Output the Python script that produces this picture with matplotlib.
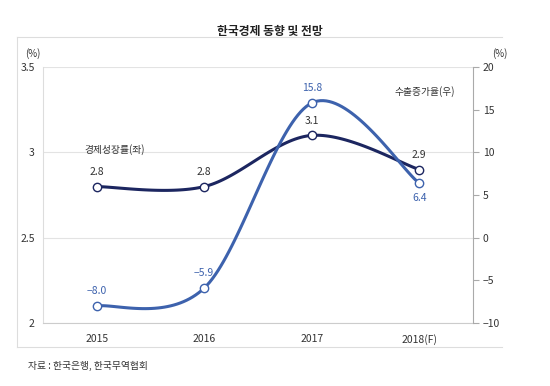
import numpy as np
import matplotlib.pyplot as plt
from matplotlib.lines import Line2D

plt.rcParams['font.family'] = ['Noto Sans CJK KR', 'DejaVu Sans']

# Data
years = ['2015', '2016', '2017', '2018(F)']
gdp_growth = [2.8, 2.8, 3.1, 2.9]          # left axis
export_growth = [-8.0, -5.9, 15.8, 6.4]    # right axis
gdp_labels = ['2.8', '2.8', '3.1', '2.9']
export_labels = ['\u22128.0', '\u22125.9', '15.8', '6.4']

gdp_color = '#1c2660'
exp_color = '#3d62ad'


def smooth(x, y, n=40):
    # Catmull-Rom style smoothing (like Excel's smoothed line)
    x = np.asarray(x, float)
    y = np.asarray(y, float)
    px = np.concatenate([[x[0]], x, [x[-1]]])
    py = np.concatenate([[y[0]], y, [y[-1]]])
    xs, ys = [], []
    t = np.linspace(0, 1, n)
    for i in range(1, len(px) - 2):
        p0 = np.array([px[i], py[i]])
        p3 = np.array([px[i + 1], py[i + 1]])
        c1 = p0 + (np.array([px[i + 1], py[i + 1]]) - np.array([px[i - 1], py[i - 1]])) / 6
        c2 = p3 - (np.array([px[i + 2], py[i + 2]]) - np.array([px[i], py[i]])) / 6
        b = ((1 - t) ** 3)[:, None] * p0 + (3 * (1 - t) ** 2 * t)[:, None] * c1 \
            + (3 * (1 - t) * t ** 2)[:, None] * c2 + (t ** 3)[:, None] * p3
        xs.extend(b[:, 0])
        ys.extend(b[:, 1])
    return np.array(xs), np.array(ys)


fig = plt.figure(figsize=(5.5, 3.86), dpi=100)
ax = fig.add_axes([0.078, 0.163, 0.782, 0.663])
ax2 = ax.twinx()

xpos = np.arange(len(years))

# left axis
ax.set_xlim(-0.5, 3.5)
ax.set_ylim(2, 3.5)
ax.set_yticks([2, 2.5, 3, 3.5])
ax.set_yticklabels(['2', '2.5', '3', '3.5'])
ax.grid(axis='y', color='#e3e3e3', linewidth=0.8)
ax.set_axisbelow(True)
ax.tick_params(axis='y', length=0, labelsize=7.5, colors='#333333', pad=6)
ax.set_xticks(xpos)
ax.set_xticklabels(years)
ax.tick_params(axis='x', length=0, labelsize=7.5, colors='#333333', pad=8)
for s in ['top', 'right']:
    ax.spines[s].set_visible(False)
ax.spines['left'].set_color('#dddddd')
ax.spines['bottom'].set_color('#cccccc')

# right axis
ax2.set_ylim(-10, 20)
ax2.set_yticks([-10, -5, 0, 5, 10, 15, 20])
ax2.set_yticklabels(['\u221210', '\u22125', '0', '5', '10', '15', '20'])
ax2.tick_params(axis='y', length=4, width=0.8, labelsize=7.5,
                colors='#333333', pad=3)
ax2.tick_params(axis='y', color='#aaaaaa')
for s in ['top', 'left', 'bottom']:
    ax2.spines[s].set_visible(False)
ax2.spines['right'].set_color('#aaaaaa')

# lines
sx, sy = smooth(xpos, gdp_growth)
ax.plot(sx, sy, color=gdp_color, linewidth=2.2, zorder=3)
ax.plot(xpos, gdp_growth, 'o', markersize=6, markerfacecolor='white',
        markeredgecolor=gdp_color, markeredgewidth=1.0, zorder=4)

ex, ey = smooth(xpos, export_growth)
ax2.plot(ex, ey, color=exp_color, linewidth=2.2, zorder=3)
ax2.plot(xpos, export_growth, 'o', markersize=6, markerfacecolor='white',
         markeredgecolor=exp_color, markeredgewidth=1.0, zorder=4)

# value labels
for i, (v, lab) in enumerate(zip(gdp_growth, gdp_labels)):
    ax.annotate(lab, (xpos[i], v), xytext=(0, 7), textcoords='offset points',
                ha='center', va='bottom', fontsize=7.5, color='#333333')
for i, (v, lab) in enumerate(zip(export_growth, export_labels)):
    dy = -7 if i == 3 else 7
    ax2.annotate(lab, (xpos[i], v), xytext=(0, dy), textcoords='offset points',
                 ha='center', va='top' if dy < 0 else 'bottom', fontsize=7.5,
                 color=exp_color)

# series names
fig.text(115 / 550, 1 - 150 / 386, '경제성장률(좌)', fontsize=7, color='#333333',
         ha='center', va='center')
fig.text(425 / 550, 1 - 92 / 386, '수출증가율(우)', fontsize=7, color='#333333',
         ha='center', va='center')

# units
fig.text(33 / 550, 1 - 54 / 386, '(%)', fontsize=7, color='#333333', ha='center', va='center')
fig.text(500 / 550, 1 - 54 / 386, '(%)', fontsize=7, color='#333333', ha='center', va='center')

# title and source
fig.text(270 / 550, 1 - 31 / 386, '한국경제 동향 및 전망', fontsize=8.5, fontweight='bold',
         color='#222222', ha='center', va='center')
fig.text(28 / 550, 1 - 366 / 386, '자료 : 한국은행, 한국무역협회', fontsize=7,
         color='#333333', ha='left', va='center')

# outer frame lines
fig.add_artist(Line2D([17 / 550, 502 / 550], [1 - 37 / 386, 1 - 37 / 386],
                      color='#dddddd', linewidth=0.8))
fig.add_artist(Line2D([17 / 550, 502 / 550], [1 - 347 / 386, 1 - 347 / 386],
                      color='#dddddd', linewidth=0.8))
fig.add_artist(Line2D([17 / 550, 17 / 550], [1 - 37 / 386, 1 - 347 / 386],
                      color='#dddddd', linewidth=0.8))

fig.savefig('out.png', dpi=100)
